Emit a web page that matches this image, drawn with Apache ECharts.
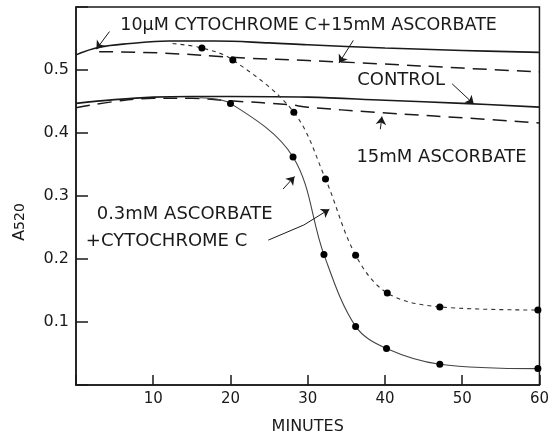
<!DOCTYPE html>
<html><head><meta charset="utf-8">
<script src="https://cdn.jsdelivr.net/npm/echarts@6/dist/echarts.min.js"></script>
<style>html,body{margin:0;padding:0;background:#fff}#c{width:552px;height:440px}</style>
</head><body><div id="c"></div>
<script>
// ---- data ----
const xTickValues = [10, 20, 30, 40, 50, 60];
const yTickValues = [0.1, 0.2, 0.3, 0.4, 0.5];

// 10 uM cytochrome c + 15 mM ascorbate (solid, upper)
const upperSolidMin = [0, 3, 7, 12, 18, 25, 30, 40, 50, 60];
const upperSolidA = [0.524, 0.536, 0.542, 0.546, 0.546, 0.543, 0.540, 0.535, 0.531, 0.528];
// 10 uM cytochrome c + 15 mM ascorbate (long dash, upper)
const upperDashMin = [3, 11, 22, 30, 39, 50, 60];
const upperDashA = [0.529, 0.527, 0.519, 0.515, 0.510, 0.503, 0.497];
// control (solid, lower)
const controlMin = [0, 5, 10, 15, 20, 30, 40, 50, 60];
const controlA = [0.447, 0.453, 0.457, 0.458, 0.458, 0.457, 0.452, 0.447, 0.441];
// 15 mM ascorbate (long dash, lower)
const ascMin = [0, 5, 10, 15, 20, 27.6, 30, 38.7, 46.4, 60];
const ascA = [0.440, 0.450, 0.455, 0.455, 0.451, 0.445, 0.441, 0.433, 0.427, 0.416];
// short-dash decay curve with dots
const slowMin = [12.5, 16.3, 20.3, 28.2, 32.3, 36.2, 40.3, 47.1, 59.8];
const slowA = [0.542, 0.535, 0.516, 0.433, 0.327, 0.206, 0.146, 0.124, 0.119];
const slowDot = [0, 1, 1, 1, 1, 1, 1, 1, 1];
// 0.3 mM ascorbate + cytochrome c (thin solid decay curve with dots)
const fastMin = [16, 20, 28.1, 32.1, 36.2, 40.2, 47.1, 59.8];
const fastA = [0.456, 0.447, 0.362, 0.207, 0.093, 0.058, 0.033, 0.026];
const fastDot = [0, 1, 1, 1, 1, 1, 1, 1];

// annotation texts (anchored in data coordinates: left edge, vertical middle)
const annTexts = ['10\u03bcM CYTOCHROME C+15mM ASCORBATE', 'CONTROL', '15mM ASCORBATE', '0.3mM ASCORBATE', '+CYTOCHROME C'];
const annMin = [5.73, 36.4, 36.3, 2.68, 1.27];
const annA = [0.571, 0.483, 0.3615, 0.271, 0.228];
const annSize = [17.5, 18, 18, 18, 18];

// leader arrows: [fromMin, fromA, toMin, toA, arrowhead]
const arrows = [
  [4.33, 0.561, 2.64, 0.533, 1],
  [35.9, 0.547, 34.05, 0.511, 1],
  [48.7, 0.478, 51.5, 0.446, 1],
  [39.4, 0.406, 39.6, 0.426, 1],
  [26.8, 0.311, 28.3, 0.331, 1],
  [24.9, 0.230, 29.5, 0.254, 0],
  [29.5, 0.254, 32.8, 0.279, 1]
];

const FONT = '"DejaVu Sans", sans-serif';
const INK = '#1a1a1a';

function pts(xs, ys) { return xs.map((x, i) => [x, ys[i]]); }
function dotted(xs, ys, flags) {
  return xs.map((x, i) => flags[i] ? { value: [x, ys[i]] } : { value: [x, ys[i]], symbol: 'none' });
}

const chart = echarts.init(document.getElementById('c'), null, { renderer: 'canvas' });

const option = {
  animation: false,
  backgroundColor: '#fff',
  grid: { left: 76, right: 5, top: 7, bottom: 43, show: true, borderColor: INK, borderWidth: 1.5, backgroundColor: 'transparent' },
  xAxis: {
    type: 'value', min: 0, max: 60, interval: 10,
    name: 'MINUTES', nameLocation: 'middle', nameGap: 34,
    nameTextStyle: { fontFamily: FONT, fontSize: 16, color: INK },
    axisLine: { show: true, lineStyle: { color: INK, width: 1.5 } },
    axisTick: { show: true, inside: true, length: 10, lineStyle: { color: INK, width: 1.5 } },
    axisLabel: { fontFamily: FONT, fontSize: 15, color: INK, margin: 7,
      formatter: v => xTickValues.indexOf(v) >= 0 ? String(v) : '' },
    splitLine: { show: false }
  },
  yAxis: {
    type: 'value', min: 0, max: 0.6, interval: 0.1,
    axisLine: { show: true, lineStyle: { color: INK, width: 1.5 } },
    axisTick: { show: true, inside: true, length: 12, lineStyle: { color: INK, width: 1.5 } },
    axisLabel: { fontFamily: FONT, fontSize: 16, color: INK, margin: 7,
      formatter: v => yTickValues.some(t => Math.abs(t - v) < 1e-9) ? v.toFixed(1) : '' },
    splitLine: { show: false }
  },
  series: [
    { type: 'line', data: pts(upperSolidMin, upperSolidA), smooth: 0.4, symbol: 'none',
      lineStyle: { color: INK, width: 1.6 } },
    { type: 'line', data: pts(upperDashMin, upperDashA), smooth: 0.4, symbol: 'none',
      lineStyle: { color: INK, width: 1.5, type: [14, 8] } },
    { type: 'line', data: pts(controlMin, controlA), smooth: 0.4, symbol: 'none',
      lineStyle: { color: INK, width: 1.6 },
      markLine: {
        silent: true, animation: false,
        symbol: ['none', 'arrow'], symbolSize: 8,
        label: { show: false },
        lineStyle: { color: INK, width: 1, type: 'solid' },
        emphasis: { disabled: true },
        data: arrows.map(a => [
          { coord: [a[0], a[1]], symbol: 'none' },
          { coord: [a[2], a[3]], symbol: a[4] ? 'arrow' : 'none' }
        ])
      } },
    { type: 'line', data: pts(ascMin, ascA), smooth: 0.4, symbol: 'none',
      lineStyle: { color: INK, width: 1.5, type: [14, 8] } },
    { type: 'line', data: dotted(slowMin, slowA, slowDot), smooth: 0.35,
      symbol: 'circle', symbolSize: 7, showAllSymbol: true,
      itemStyle: { color: '#000' },
      lineStyle: { color: '#333', width: 1.1, type: [4, 4] } },
    { type: 'line', data: dotted(fastMin, fastA, fastDot), smooth: 0.35,
      symbol: 'circle', symbolSize: 7, showAllSymbol: true,
      itemStyle: { color: '#000' },
      lineStyle: { color: '#444', width: 1.1 } }
  ]
};
chart.setOption(option);

const graphics = annTexts.map((t, i) => {
  const p = chart.convertToPixel({ gridIndex: 0 }, [annMin[i], annA[i]]);
  return { type: 'text', x: p[0], y: p[1], silent: true,
    style: { text: t, fontFamily: FONT, fontSize: annSize[i], fill: INK, align: 'left', verticalAlign: 'middle' } };
});
graphics.push({
  type: 'text', x: 20, y: 222, rotation: Math.PI / 2, silent: true,
  style: {
    text: '{a|A}{s|520}', align: 'center', verticalAlign: 'middle', fill: INK,
    rich: { a: { fontFamily: FONT, fontSize: 16, fill: INK }, s: { fontFamily: FONT, fontSize: 14, fill: INK } }
  }
});
chart.setOption({ graphic: graphics });
</script>
</body></html>
